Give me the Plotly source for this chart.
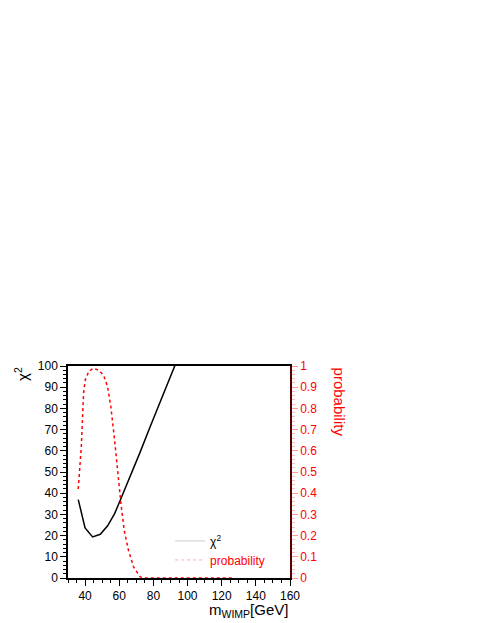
import plotly.graph_objects as go

# chi2 curve (left axis)
chi2_mass = [36, 40, 44.4, 48.9, 53.2, 57.3, 60.6, 66.4, 72.3, 78.1, 84.0, 92.3, 96]
chi2_vals = [37.0, 23.6, 19.4, 20.6, 24.6, 30.4, 36.7, 47.7, 59.5, 71.3, 83.1, 100.0, 107]

# probability curve (right axis)
prob_mass = [36, 37.8, 39.1, 40.1, 42.1, 44.6, 47.9, 50.8, 53.2, 55.1, 57.3, 59.2,
             61.0, 62.9, 65.4, 68.4, 72.3, 75, 80, 90, 100, 110, 120, 126]
prob_vals = [0.42, 0.62, 0.87, 0.934, 0.973, 0.989, 0.981, 0.957, 0.902, 0.808, 0.65, 0.477,
             0.351, 0.225, 0.131, 0.052, 0.005, 0, 0, 0, 0, 0, 0, 0]

fig = go.Figure()

fig.add_trace(go.Scatter(x=chi2_mass, y=chi2_vals, mode='lines',
                         line=dict(color='black', width=1.5), showlegend=False))
fig.add_trace(go.Scatter(x=prob_mass, y=prob_vals, mode='lines', yaxis='y2',
                         line=dict(color='red', width=1.5, dash='dot'), showlegend=False))

# legend entries (pale lines as in the original)
fig.add_trace(go.Scatter(x=[None], y=[None], mode='lines', name='χ<sup>2</sup>',
                         line=dict(color='#cccccc', width=1)))
fig.add_trace(go.Scatter(x=[None], y=[None], mode='lines',
                         name='<span style="color:red">probability</span>',
                         line=dict(color='#ffaaaa', width=1, dash='dot')))

font = dict(family='Liberation Sans, Arial, sans-serif', size=12, color='black')

fig.update_layout(
    width=482, height=623,
    margin=dict(l=68, r=192, t=366, b=45),
    paper_bgcolor='white', plot_bgcolor='white',
    font=font,
    xaxis=dict(range=[30, 160], dtick=20, showgrid=False, zeroline=False,
               showline=True, linecolor='black', linewidth=1.5, mirror=True,
               ticks='outside', ticklen=6, tickcolor='black',
               minor=dict(dtick=5, ticks='outside', ticklen=3, tickcolor='black')),
    yaxis=dict(range=[0, 100], dtick=10, showgrid=False, zeroline=False,
               showline=True, linecolor='black', linewidth=1.5,
               ticks='outside', ticklen=6, tickcolor='black',
               minor=dict(dtick=2, ticks='outside', ticklen=3, tickcolor='black')),
    yaxis2=dict(range=[0, 1], dtick=0.1, overlaying='y', side='right',
                showgrid=False, zeroline=False,
                showline=True, linecolor='#500000', linewidth=1.5,
                ticks='outside', ticklen=6, tickcolor='#ff9999',
                tickfont=dict(color='red', size=12),
                minor=dict(dtick=0.02, ticks='outside', ticklen=3, tickcolor='#ffbbbb')),
    legend=dict(x=0.46, y=0.13, xanchor='left', yanchor='middle',
                bgcolor='rgba(0,0,0,0)', font=dict(size=12), tracegroupgap=0),
    annotations=[
        dict(text='χ<sup>2</sup>', xref='paper', yref='paper', x=-0.212, y=0.962,
             xanchor='center', yanchor='middle',
             textangle=-90, showarrow=False, font=dict(size=15)),
        dict(text='probability', xref='paper', yref='paper', x=1.225, y=1.0,
             xanchor='center', yanchor='top', textangle=90, showarrow=False,
             font=dict(size=15, color='red')),
        dict(text='m<sub>WIMP</sub>[GeV]', xref='paper', yref='paper', x=1.0, y=-0.155,
             xanchor='right', yanchor='middle', showarrow=False, font=dict(size=15)),
    ],
)

# drop the default page margin so the figure fills the window exactly
fig.write_html("out.html", config={'displayModeBar': False},
               post_script="document.body.style.margin='0';")
